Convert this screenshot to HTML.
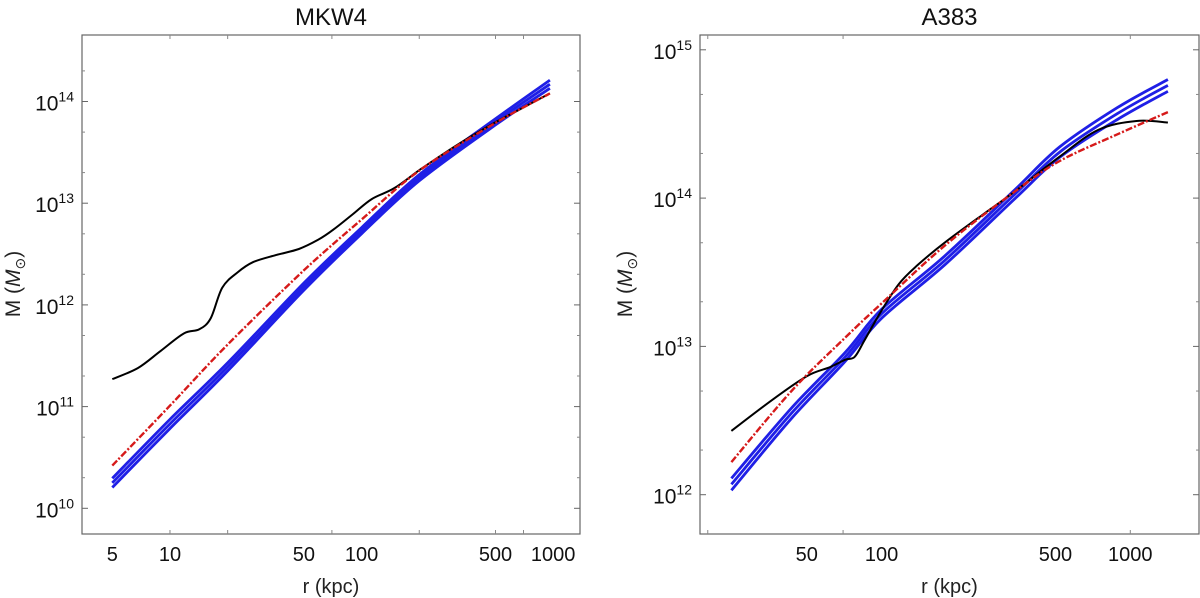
<!DOCTYPE html>
<html><head><meta charset="utf-8">
<style>
body{margin:0;background:#fff;}
svg{display:block;font-family:"Liberation Sans",sans-serif;}
</style></head>
<body>
<svg id="chart" width="1200" height="598" viewBox="0 0 1200 598"></svg>
<script>
// ---- Data: MKW4 (log10 r, log10 M) ----
const mkw4BlackLogR = [0.699,0.833,0.953,1.073,1.153,1.213,1.273,1.353,1.433,1.553,1.673,1.773,1.853,1.953,2.053,2.173,2.313,2.513,2.693,2.813,2.983];
const mkw4BlackLogM = [11.27,11.38,11.55,11.72,11.76,11.87,12.17,12.32,12.42,12.49,12.55,12.64,12.74,12.89,13.04,13.15,13.34,13.59,13.79,13.91,14.08];
const mkw4RedLogR = [0.699,1.0,1.301,1.699,2.0,2.301,2.699,2.983];
const mkw4RedLogM = [10.42,11.01,11.61,12.34,12.84,13.32,13.79,14.08];
const mkw4BlueLogR = [0.699,1.0,1.301,1.699,2.0,2.301,2.699,2.983];
const mkw4BlueLogM = [10.25,10.83,11.39,12.18,12.73,13.25,13.80,14.17];
const mkw4BlueSpread = [0.045,0.045,0.04,0.035,0.03,0.03,0.03,0.04];
// ---- Data: A383 ----
const a383BlackLogR = [1.396,1.561,1.700,1.792,1.854,1.892,1.931,1.992,2.069,2.146,2.254,2.408,2.532,2.716,2.871,3.025,3.151];
const a383BlackLogM = [12.43,12.64,12.80,12.86,12.91,12.93,13.04,13.22,13.42,13.55,13.70,13.89,14.04,14.28,14.46,14.52,14.51];
const a383RedLogR = [1.396,1.638,1.854,2.0,2.254,2.532,2.716,2.948,3.151];
const a383RedLogM = [12.22,12.70,13.06,13.29,13.68,14.04,14.25,14.43,14.58];
const a383BlueLogR = [1.396,1.638,1.854,2.0,2.254,2.532,2.716,2.948,3.151];
const a383BlueLogM = [12.07,12.55,12.93,13.22,13.58,14.02,14.31,14.57,14.76];
const a383BlueSpread = [0.04,0.035,0.03,0.03,0.03,0.03,0.035,0.04,0.04];
// ---- Ticks ----
const mkw4XLabels = [5,10,50,100,500,1000];
const mkw4XMinor = [10,20,70,200,500,700];
const mkw4YExp = [10,11,12,13,14];
const a383XLabels = [50,100,500,1000];
const a383XMinor = [20,70,1000];
const a383YExp = [12,13,14,15];

const NS="http://www.w3.org/2000/svg";
const svg=document.getElementById('chart');
function mk(tag,attrs,parent){const e=document.createElementNS(NS,tag);for(const k in attrs)e.setAttribute(k,attrs[k]);(parent||svg).appendChild(e);return e;}
function smooth(pts){
  let d='M'+pts[0][0].toFixed(1)+','+pts[0][1].toFixed(1);
  for(let i=0;i<pts.length-1;i++){
    const p0=pts[Math.max(0,i-1)],p1=pts[i],p2=pts[i+1],p3=pts[Math.min(pts.length-1,i+2)];
    const c1=[p1[0]+(p2[0]-p0[0])/6,p1[1]+(p2[1]-p0[1])/6];
    const c2=[p2[0]-(p3[0]-p1[0])/6,p2[1]-(p3[1]-p1[1])/6];
    d+=' C'+c1.map(v=>v.toFixed(1)).join(',')+' '+c2.map(v=>v.toFixed(1)).join(',')+' '+p2.map(v=>v.toFixed(1)).join(',');
  }
  return d;
}

function panel(cfg){
  const g=mk('g',{});
  
  
  const X=lr=>cfg.x0+(lr-cfg.lr0)*cfg.dx;
  const Y=lm=>cfg.y0+(cfg.lm0-lm)*cfg.dy;
  const fr=mk('rect',{x:cfg.L,y:cfg.T,width:cfg.R-cfg.L,height:cfg.B-cfg.T,fill:'none',stroke:'#666','stroke-width':1.2},g);
  
  
  cfg.yExp.forEach(e=>{
    const y=Y(e);
    mk('line',{x1:cfg.L,x2:cfg.L+6,y1:y,y2:y,stroke:'#666'},g);
    mk('line',{x1:cfg.R,x2:cfg.R-6,y1:y,y2:y,stroke:'#666'},g);
    const t=mk('text',{x:cfg.L-8,y:y+9,'text-anchor':'end','font-size':21,fill:'#111'},g);
    
    
    t.innerHTML='10<tspan dy="-9" font-size="14">'+e+'</tspan>';
    [2,5].forEach(m=>{const lm=e+Math.log10(m);const yy=Y(lm);if(yy>cfg.T&&yy<cfg.B){
      mk('line',{x1:cfg.L,x2:cfg.L+3,y1:yy,y2:yy,stroke:'#888'},g);
      mk('line',{x1:cfg.R,x2:cfg.R-3,y1:yy,y2:yy,stroke:'#888'},g);}});
  });
  cfg.xMinor.forEach(v=>{const x=X(Math.log10(v));
    mk('line',{x1:x,x2:x,y1:cfg.B,y2:cfg.B-4,stroke:'#888'},g);
    mk('line',{x1:x,x2:x,y1:cfg.T,y2:cfg.T+4,stroke:'#888'},g);});
  cfg.xLabels.forEach(v=>{const x=X(Math.log10(v));
    const t=mk('text',{x:x,y:cfg.B+27,'text-anchor':'middle','font-size':20,fill:'#111'},g);
    
    
    t.textContent=v;});
  const tt=mk('text',{x:(cfg.L+cfg.R)/2,y:25,'text-anchor':'middle','font-size':24,fill:'#111'},g);
  
  
  tt.textContent=cfg.title;
  const xt=mk('text',{x:(cfg.L+cfg.R)/2,y:593,'text-anchor':'middle','font-size':20,fill:'#222'},g);
  
  
  xt.textContent='r (kpc)';
  const yt=mk('text',{x:0,y:0,'text-anchor':'middle','font-size':21,fill:'#222',transform:'translate('+cfg.ytx+',284) rotate(-90)'},g);
  
  
  yt.innerHTML='M (<tspan font-style="italic">M</tspan><tspan font-size="14" dy="5">⊙</tspan><tspan dy="-5">)</tspan>';
  function line(lr,lm,off,attrs,name){
    const pts=lr.map((v,i)=>[X(v),Y(lm[i]+(off?off[i]:0))]);
    const p=mk('path',Object.assign({d:smooth(pts),fill:'none','stroke-linejoin':'round'},attrs),g);
    
    
  }
  [-1,0,1].forEach(s=>line(cfg.blueR,cfg.blueM,cfg.blueS.map(v=>v*s),{stroke:'#1f1fe6','stroke-width':2.8},'blue-model-curve'));
  line(cfg.blackR,cfg.blackM,null,{stroke:'#000','stroke-width':2},'black-data-curve');
  line(cfg.redR,cfg.redM,null,{stroke:'#d61a1a','stroke-width':2.4,'stroke-dasharray':'7,2,2,2'},'red-dashdot-curve');
}
panel({name:'mkw4',title:'MKW4',L:82,R:580,T:35,B:534,x0:112.3,lr0:Math.log10(5),dx:191.6,y0:101.5,lm0:14,dy:101.7,ytx:20,
  xLabels:mkw4XLabels,xMinor:mkw4XMinor,yExp:mkw4YExp,
  blackR:mkw4BlackLogR,blackM:mkw4BlackLogM,redR:mkw4RedLogR,redM:mkw4RedLogM,blueR:mkw4BlueLogR,blueM:mkw4BlueLogM,blueS:mkw4BlueSpread});
panel({name:'a383',title:'A383',L:700,R:1199,T:35,B:534,x0:881.6,lr0:2,dx:248.7,y0:49.8,lm0:15,dy:148.3,ytx:632,
  xLabels:a383XLabels,xMinor:a383XMinor,yExp:a383YExp,
  blackR:a383BlackLogR,blackM:a383BlackLogM,redR:a383RedLogR,redM:a383RedLogM,blueR:a383BlueLogR,blueM:a383BlueLogM,blueS:a383BlueSpread});
</script>
</body></html>
